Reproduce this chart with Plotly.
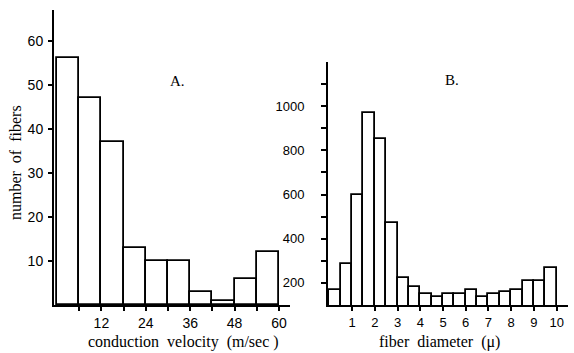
import plotly.graph_objects as go

# Panel A: conduction velocity histogram (bin left edges, m/sec) and counts
vel_left = [0, 6, 12, 18, 24, 30, 36, 42, 48, 54]
vel_counts = [56, 47, 37, 13, 10, 10, 3, 1, 6, 12]
vel_width = 6
vel_tickvals = [6, 12, 18, 24, 30, 36, 42, 48, 54, 60]
vel_ticktext = ["", "12", "", "24", "", "36", "", "48", "", "60"]
a_ytickvals = [10, 20, 30, 40, 50, 60]

# Panel B: fiber diameter histogram (bin left edges, micron) and counts
dia_left = [0, 0.5, 1, 1.5, 2, 2.5, 3, 3.5, 4, 4.5, 5, 5.5, 6, 6.5, 7, 7.5, 8, 8.5, 9, 9.5]
dia_counts = [170, 285, 600, 970, 850, 470, 220, 180, 150, 135,
              150, 150, 168, 135, 150, 160, 168, 210, 208, 268]
dia_width = 0.5
dia_tickvals = [1, 2, 3, 4, 5, 6, 7, 8, 9, 10]
b_ytickvals = [200, 300, 400, 500, 600, 700, 800, 900, 1000, 1100]
b_yticktext = ["200", "", "400", "", "600", "", "800", "", "1000", ""]

W, H = 574, 353
SANS = "Liberation Sans, Arial, sans-serif"
SERIF = "Liberation Serif, Times New Roman, serif"

bar_style = dict(color="white", line=dict(color="black", width=1.8))

fig = go.Figure()
fig.add_trace(go.Bar(x=vel_left, y=vel_counts, width=vel_width, offset=0,
                     marker=bar_style, xaxis="x", yaxis="y"))
fig.add_trace(go.Bar(x=dia_left, y=dia_counts, width=dia_width, offset=0,
                     marker=bar_style, xaxis="x2", yaxis="y2"))

def px_x(p):
    return p / W

def px_y(p):
    return (H - p) / H

common_axis = dict(showline=True, linecolor="black", linewidth=2, showgrid=False,
                   zeroline=False, ticks="outside", tickcolor="black", tickwidth=1.5,
                   fixedrange=True)

fig.update_layout(
    width=W, height=H,
    margin=dict(l=0, r=0, t=0, b=0),
    paper_bgcolor="white", plot_bgcolor="white",
    showlegend=False,
    bargap=0,
    xaxis=dict(**common_axis, domain=[px_x(54), px_x(290)], range=[-0.81, 62.97],
               anchor="y", tickvals=vel_tickvals, ticktext=vel_ticktext, ticklen=4,
               tickfont=dict(family=SANS, size=14, color="black")),
    yaxis=dict(**common_axis, domain=[px_y(305), px_y(10)], range=[0, 67],
               anchor="x", tickvals=a_ytickvals, ticklen=4, ticklabelstandoff=2,
               tickfont=dict(family=SANS, size=14, color="black")),
    xaxis2=dict(**common_axis, domain=[px_x(328), px_x(568)], range=[-0.06, 10.5],
                anchor="y2", tickvals=dia_tickvals, ticklen=4,
                tickfont=dict(family=SANS, size=13, color="black")),
    yaxis2=dict(**common_axis, domain=[px_y(305), px_y(62)], range=[100, 1200],
                anchor="x2", tickvals=b_ytickvals, ticktext=b_yticktext, ticklen=5,
                ticklabelstandoff=14,
                tickfont=dict(family=SANS, size=13, color="black")),
)

def note(text, x, y, size, angle=0):
    fig.add_annotation(text=text, xref="paper", yref="paper", x=px_x(x), y=px_y(y),
                       xanchor="center", yanchor="middle", showarrow=False,
                       textangle=angle, font=dict(family=SERIF, size=size, color="black"))

note("number\u00a0 of\u00a0 fibers", 15, 163, 16, angle=-90)
note("conduction\u00a0 velocity\u00a0 (m/sec\u00a0)", 183, 342, 16)
note("fiber\u00a0 diameter\u00a0 (\u03bc)", 439, 342, 16)
note("A.", 177, 81, 15)
note("B.", 452, 80, 15)

fig.write_html("out.html")
